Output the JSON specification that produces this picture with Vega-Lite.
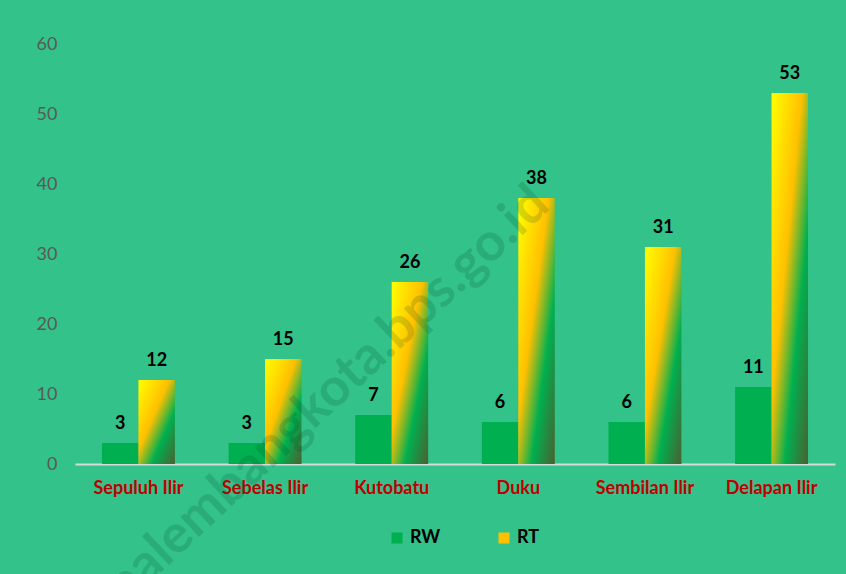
{
  "$schema": "https://vega.github.io/schema/vega-lite/v6.json",
  "width": 760,
  "height": 420,
  "autosize": "none",
  "padding": {"left": 75, "top": 44, "right": 11, "bottom": 110},
  "background": "#33C289",
  "config": {"view": {"stroke": null}, "font": "Lato"},
  "data": {
    "values": [
      {"kel": "Sepuluh Ilir", "series": "RW", "value": 3},
      {"kel": "Sepuluh Ilir", "series": "RT", "value": 12},
      {"kel": "Sebelas Ilir", "series": "RW", "value": 3},
      {"kel": "Sebelas Ilir", "series": "RT", "value": 15},
      {"kel": "Kutobatu", "series": "RW", "value": 7},
      {"kel": "Kutobatu", "series": "RT", "value": 26},
      {"kel": "Duku", "series": "RW", "value": 6},
      {"kel": "Duku", "series": "RT", "value": 38},
      {"kel": "Sembilan Ilir", "series": "RW", "value": 6},
      {"kel": "Sembilan Ilir", "series": "RT", "value": 31},
      {"kel": "Delapan Ilir", "series": "RW", "value": 11},
      {"kel": "Delapan Ilir", "series": "RT", "value": 53}
    ]
  },
  "encoding": {
    "x": {
      "field": "kel",
      "type": "nominal",
      "sort": null,
      "scale": {"paddingInner": 0.424, "paddingOuter": 0.213},
      "axis": {
        "title": null,
        "labelAngle": 0,
        "labelFont": "Lato",
        "labelFontSize": 18,
        "labelFontWeight": "bold",
        "labelColor": "#C00000",
        "labelPadding": 15,
        "ticks": false,
        "domainColor": "#D9D9D9",
        "domainWidth": 2,
        "labelLimit": 200
      }
    },
    "y": {
      "field": "value",
      "type": "quantitative",
      "scale": {"domain": [0, 60], "nice": false},
      "axis": {
        "title": null,
        "values": [0, 10, 20, 30, 40, 50, 60],
        "grid": false,
        "domain": false,
        "ticks": false,
        "labelFont": "Lato",
        "labelFontSize": 18,
        "labelColor": "#595959",
        "labelPadding": 18
      }
    }
  },
  "layer": [
    {
      "transform": [{"filter": "datum.series === 'RW'"}],
      "mark": {"type": "bar"},
      "encoding": {
        "xOffset": {
          "field": "series",
          "type": "nominal",
          "scale": {"domain": ["RW", "RT"], "paddingInner": 0, "paddingOuter": 0}
        },
        "color": {
          "field": "series",
          "type": "nominal",
          "scale": {"domain": ["RW", "RT"], "range": ["#00B050", "#FFC000"]},
          "legend": {
            "title": null,
            "orient": "none",
            "direction": "horizontal",
            "legendX": 313,
            "legendY": 485,
            "symbolType": "square",
            "symbolSize": 121,
            "symbolStrokeWidth": 0,
            "labelFont": "Lato",
            "labelFontSize": 18,
            "labelFontWeight": "bold",
            "labelColor": "#000000",
            "labelOffset": 4,
            "columnPadding": 54
          }
        }
      }
    },
    {
      "transform": [{"filter": "datum.series === 'RT'"}],
      "mark": {
        "type": "bar",
        "fill": {
          "gradient": "linear", "x1": 0, "y1": 0, "x2": 1, "y2": 1,
          "stops": [
            {"offset": 0, "color": "#FFFF00"},
            {"offset": 0.42, "color": "#FFC000"},
            {"offset": 0.68, "color": "#00B050"},
            {"offset": 1, "color": "#4A6030"}
          ]
        }
      },
      "encoding": {
        "xOffset": {
          "field": "series",
          "type": "nominal",
          "scale": {"domain": ["RW", "RT"], "paddingInner": 0, "paddingOuter": 0}
        }
      }
    },
    {
      "mark": {
        "type": "text",
        "font": "Lato",
        "fontSize": 18,
        "fontWeight": "bold",
        "color": "#000000",
        "baseline": "alphabetic",
        "dy": -14
      },
      "encoding": {
        "xOffset": {
          "field": "series",
          "type": "nominal",
          "scale": {"domain": ["RW", "RT"], "paddingInner": 0, "paddingOuter": 0}
        },
        "text": {"field": "value", "type": "quantitative"}
      }
    },
    {
      "data": {"values": [{"kel": "Kutobatu", "value": 18.4, "t": "palembangkota.bps.go.id"}]},
      "mark": {
        "type": "text",
        "font": "Lato",
        "fontSize": 53,
        "fontWeight": "bold",
        "angle": -43,
        "fill": "#004028",
        "fillOpacity": 0.16,
        "align": "center",
        "baseline": "middle",
        "dx": -88
      },
      "encoding": {
        "text": {"field": "t", "type": "nominal"}
      }
    }
  ]
}
